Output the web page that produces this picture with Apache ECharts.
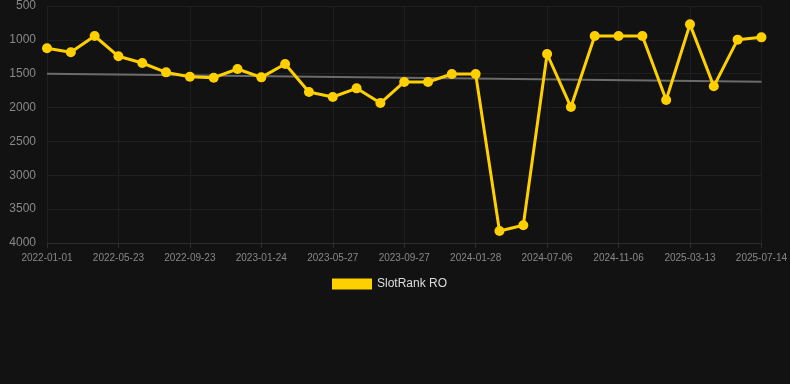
<!DOCTYPE html>
<html>
<head>
<meta charset="utf-8">
<script src="https://cdn.jsdelivr.net/npm/echarts@6/dist/echarts.min.js"></script>
<style>
html,body{margin:0;padding:0;background:#121212;}
#c{width:790px;height:384px;}
</style>
</head>
<body>
<div id="c"></div>
<script>
const categories = [
  '2022-01-01','2022-02-17','2022-04-05','2022-05-23','2022-07-03','2022-08-13',
  '2022-09-23','2022-11-03','2022-12-14','2023-01-24','2023-03-05','2023-04-15',
  '2023-05-27','2023-07-07','2023-08-17','2023-09-27','2023-11-07','2023-12-18',
  '2024-01-28','2024-03-22','2024-05-14','2024-07-06','2024-08-16','2024-09-26',
  '2024-11-06','2024-12-18','2025-01-30','2025-03-13','2025-04-23','2025-06-03',
  '2025-07-14'
];
const rankValues = [
  1125, 1184, 943, 1243, 1342, 1480, 1544, 1559, 1430, 1554, 1357,
  1770, 1844, 1716, 1933, 1622, 1622, 1504, 1504, 3823, 3739,
  1209, 1992, 943, 943, 943, 1888, 771, 1686, 997, 963
];
const trendStart = 1499;
const trendEnd = 1617;
const trendValues = categories.map((c, i) => i === 0 ? trendStart : (i === categories.length - 1 ? trendEnd : null));
const yTicks = [500, 1000, 1500, 2000, 2500, 3000, 3500, 4000];

const chart = echarts.init(document.getElementById('c'));
chart.setOption({
  backgroundColor: '#121212',
  animation: false,
  grid: { left: 47, right: 28, top: 6, bottom: 141, containLabel: false },
  legend: {
    data: [{ name: 'SlotRank RO', icon: 'rect' }],
    top: 273,
    left: 327,
    itemWidth: 40,
    itemHeight: 11,
    itemGap: 10,
    textStyle: { color: '#dddddd', fontSize: 12, fontFamily: 'Liberation Sans, Arial, sans-serif' }
  },
  xAxis: {
    type: 'category',
    data: categories,
    boundaryGap: false,
    axisLine: { show: true, lineStyle: { color: '#2e2e2e' } },
    axisTick: { show: true, interval: 2, lineStyle: { color: '#2e2e2e' } },
    axisLabel: { interval: 2, color: '#888888', fontSize: 10, margin: 10, fontFamily: 'Liberation Sans, Arial, sans-serif' },
    splitLine: { show: true, interval: 2, lineStyle: { color: '#1f1f1f' } }
  },
  yAxis: {
    type: 'value',
    inverse: true,
    min: yTicks[0],
    max: yTicks[yTicks.length - 1],
    interval: 500,
    axisLine: { show: false },
    axisTick: { show: false },
    axisLabel: { color: '#888888', fontSize: 12, margin: 11, formatter: v => String(v), fontFamily: 'Liberation Sans, Arial, sans-serif' },
    splitLine: { show: true, lineStyle: { color: '#1f1f1f' } }
  },
  series: [
    {
      name: 'Trend',
      type: 'line',
      data: trendValues,
      connectNulls: true,
      symbol: 'none',
      lineStyle: { color: '#6b6b6b', width: 2 },
      z: 1
    },
    {
      name: 'SlotRank RO',
      type: 'line',
      data: rankValues,
      symbol: 'circle',
      symbolSize: 10,
      itemStyle: { color: '#ffd000' },
      lineStyle: { color: '#ffd000', width: 3 },
      z: 2
    }
  ]
});
</script>
</body>
</html>
